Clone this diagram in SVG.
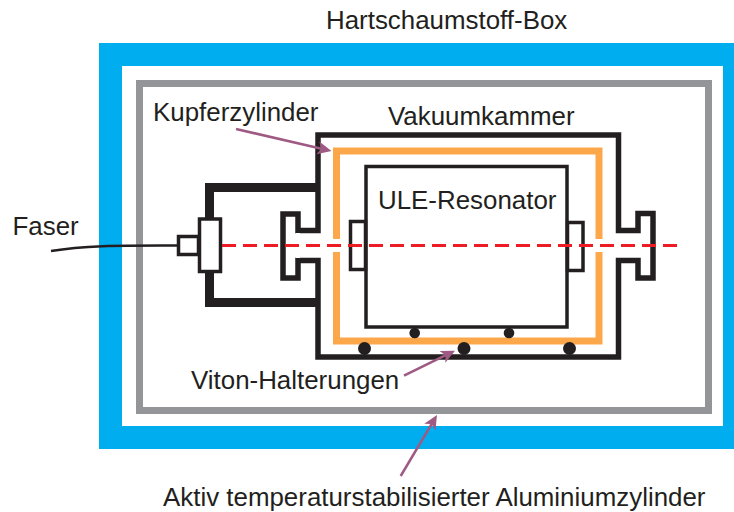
<svg xmlns="http://www.w3.org/2000/svg" width="734" height="512" viewBox="0 0 734 512">
<style>
text{font-family:"Liberation Sans",Arial,sans-serif;font-size:25.9px;fill:#231f20}
.k{fill:none;stroke:#231f20;stroke-linejoin:miter;stroke-linecap:butt}
.w{fill:#fff;stroke:#231f20;stroke-width:3.5}
.d{fill:#231f20}
.a{stroke:#9e5a82;stroke-width:2.5;fill:none;marker-end:url(#h)}
</style>
<defs><marker id="h" markerUnits="userSpaceOnUse" markerWidth="16" markerHeight="16" viewBox="0 -8 16 16" refX="6" refY="0" orient="auto"><path d="M0,-6.5L14,0L0,6.5L3.5,0z" fill="#9e5a82"/></marker></defs>
<rect width="734" height="512" fill="#fff"/>
<g id="box"><rect x="99" y="43" width="635" height="406" fill="#00aeef"/><rect x="122" y="66" width="601" height="360" fill="#fff"/></g>
<g id="aluminium"><rect x="139.500" y="83.500" width="569" height="327" fill="none" stroke="#939598" stroke-width="7"/></g>
<g id="kupfer"><rect x="336.500" y="151" width="262.500" height="190" fill="none" stroke="#fba74a" stroke-width="7"/><rect x="332" y="239" width="9" height="13" fill="#fff"/><rect x="595" y="239" width="9" height="13" fill="#fff"/></g>
<g id="vakuumkammer"><path class="k" stroke-width="5.500" d="M298,230.500H318V135H618.500V230.500H638V213.500H653V278H638V260.500H618.500V357H318V260.500H298V278H283V214H298z"/><rect x="296" y="233" width="4" height="25" fill="#fff"/></g>
<g id="halter"><path class="k" stroke-width="9" d="M318,187.500H209.500V302.500H318"/></g>
<g id="resonator"><rect x="366" y="166.500" width="201" height="160.500" fill="#fff" stroke="#231f20" stroke-width="3.500"/><rect class="w" x="350.500" y="221.500" width="15" height="48"/><rect class="w" x="567.500" y="222.500" width="15.500" height="48"/></g>
<g id="viton"><circle class="d" cx="414.700" cy="333" r="5.300"/><circle class="d" cx="509" cy="333" r="5.300"/><circle class="d" cx="364.500" cy="348.500" r="6.500"/><circle class="d" cx="464" cy="348.500" r="6.500"/><circle class="d" cx="569.500" cy="348.500" r="6.500"/></g>
<g id="faser"><path d="M51,251C85,245 125,245.500 177,245.500" fill="none" stroke="#231f20" stroke-width="2.500"/><rect class="w" x="178.500" y="236.500" width="20" height="18"/><rect class="w" x="199.500" y="219" width="21" height="52.500"/></g>
<g id="connectors">
<path d="M222,245.500H678" stroke="#ed1c24" stroke-width="3" stroke-dasharray="14 7" fill="none"/>
<path class="a" d="M236,129L323.700,149.200"/>
<path class="a" d="M404,375.700L447.800,354.200"/>
<path class="a" d="M400.700,476L432.900,421.900"/>
</g>
<g id="labels">
<text x="326" y="29">Hartschaumstoff-Box</text>
<text x="153" y="121">Kupferzylinder</text>
<text x="388" y="125">Vakuumkammer</text>
<text x="378" y="209">ULE-Resonator</text>
<text x="12.500" y="235">Faser</text>
<text x="191" y="389">Viton-Halterungen</text>
<text x="163" y="506">Aktiv temperaturstabilisierter Aluminiumzylinder</text>
</g>
</svg>
